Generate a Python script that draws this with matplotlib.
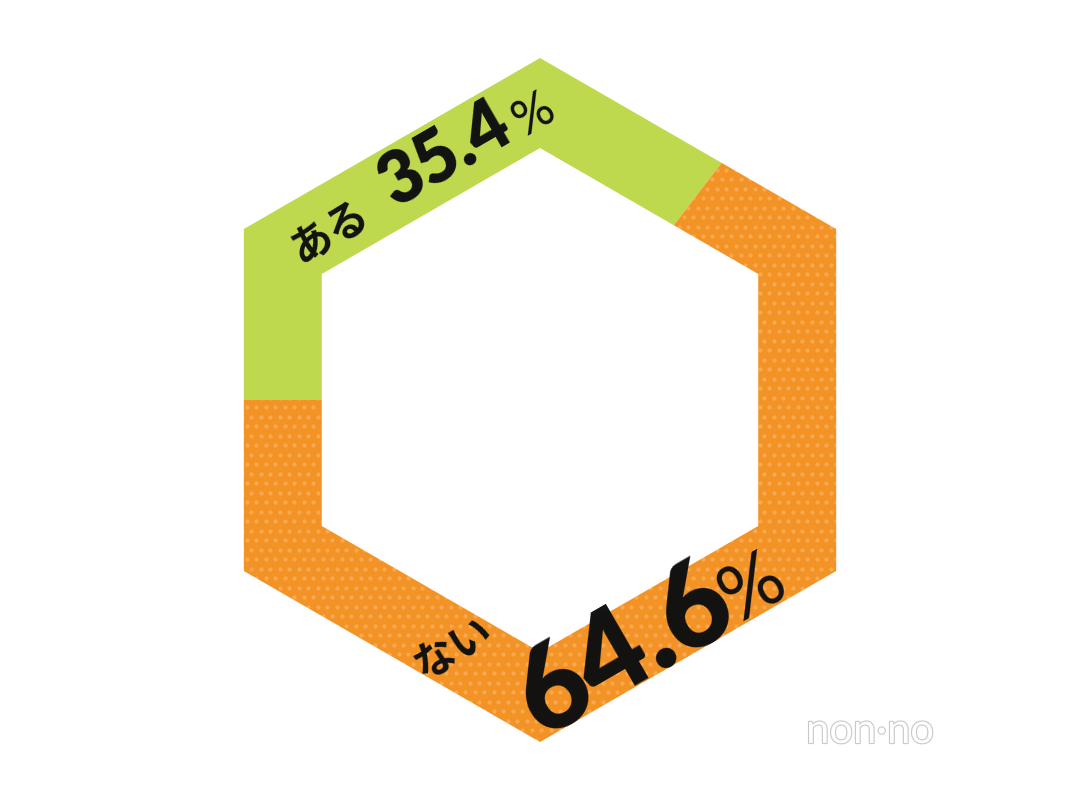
import numpy as np
import matplotlib.pyplot as plt
from matplotlib.patches import Polygon, PathPatch
from matplotlib.path import Path
import matplotlib.patheffects as pe

# answer shares (%)
labels = ['ある', 'ない']
shares = [35.4, 64.6]
colors = ['#bfd94f', '#f39325']
dot_color = '#f7a952'

W, H = 1080, 808
cx, cy = 540, 408          # hexagon centre (y up)
r_out, r_in = 342, 252     # vertex radius of outer / inner hexagon


def hexagon(r):
    ang = np.radians(90 + 60 * np.arange(6))
    return np.column_stack([cx + r * np.cos(ang), cy + r * np.sin(ang)])


fig = plt.figure(figsize=(W / 100, H / 100), dpi=100)
ax = fig.add_axes([0, 0, 1, 1])
ax.set_xlim(0, W)
ax.set_ylim(0, H)

wedges, _ = ax.pie(shares, colors=colors, startangle=180, counterclock=False,
                   center=(cx, cy), radius=420,
                   wedgeprops=dict(linewidth=0))

# dotted texture on the "ない" part
gx, gy = np.meshgrid(np.arange(180, 900, 9.5), np.arange(40, 790, 9.5))
gx = gx + (np.arange(gx.shape[0])[:, None] % 2) * 4.75
dots = ax.scatter(gx.ravel(), gy.ravel(), s=9, color=dot_color,
                  linewidths=0, zorder=2)
dots.set_clip_path(wedges[1])

# white mask outside the outer hexagon
rect = np.array([[0, 0], [W, 0], [W, H], [0, H], [0, 0]])
hx = hexagon(r_out)[::-1]
verts = np.vstack([rect, hx, hx[:1]])
codes = ([Path.MOVETO] + [Path.LINETO] * 3 + [Path.CLOSEPOLY]
         + [Path.MOVETO] + [Path.LINETO] * 5 + [Path.CLOSEPOLY])
ax.add_patch(PathPatch(Path(verts, codes), facecolor='white',
                       edgecolor='none', zorder=5))
ax.add_patch(Polygon(hexagon(r_in), closed=True, facecolor='white',
                     edgecolor='none', zorder=5))

fam = ['Lato', 'Noto Sans CJK JP', 'DejaVu Sans']
jp = ['Noto Sans CJK JP', 'DejaVu Sans']


def put(x, y, s, size, family, weight='heavy'):
    ax.text(x, H - y, s, fontsize=size, fontweight=weight, family=family,
            rotation=30, rotation_mode='anchor', ha='center', va='center',
            color='#111111', zorder=10)


put(330, 232, labels[0], 30, jp, 'bold')
put(445, 155, f'{shares[0]:.1f}', 51, fam)
put(534, 115, '%', 36, fam, 'normal')

put(453, 648, labels[1], 30, jp, 'bold')
put(624, 651, f'{shares[1]:.1f}', 84, fam)
put(754, 589, '%', 56, fam, 'normal')

# watermark
ax.text(870, H - 731, 'non·no', fontsize=30, family='Lato', color='white',
        ha='center', va='center', zorder=10,
        path_effects=[pe.withStroke(linewidth=1.6, foreground='#c8c8c8')])

ax.set_xlim(0, W)
ax.set_ylim(0, H)
ax.set_aspect('auto')
ax.axis('off')
fig.savefig('out.png', dpi=100, facecolor='white')
